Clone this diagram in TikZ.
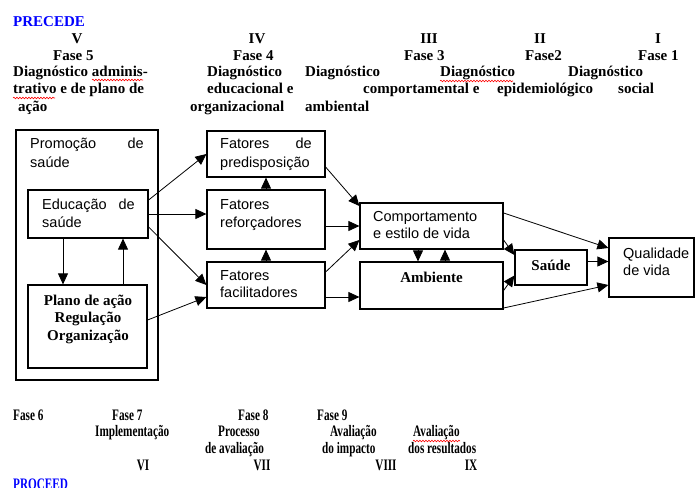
\documentclass[tikz,border=0pt]{standalone}
\usepackage{fontspec}
\setmainfont{Liberation Serif}
\newfontfamily\arialf{Liberation Sans}
\usetikzlibrary{arrows.meta,decorations.pathmorphing}
\newcommand\hfnt{\fontsize{15}{17}\selectfont\bfseries}
\newcommand\afnt{\arialf\fontsize{14.5}{18}\selectfont}
\newcommand\cnd[1]{{\fontsize{16}{18}\selectfont\scalebox{0.7}[1]{#1}}}
\begin{document}
\begin{tikzpicture}[x=1pt,y=-1pt,
 box/.style={draw, line width=1.2pt, inner sep=0pt, rectangle},
 arr/.style={line width=0.8pt, -{Triangle[length=11pt,width=10pt]}},
 hd/.style={font=\hfnt, inner sep=0pt, anchor=mid west, yshift=-1.5pt},
 hc/.style={font=\hfnt, inner sep=0pt, anchor=mid, yshift=-1.5pt},
 bt/.style={font=\afnt, inner sep=0pt, anchor=mid west, yshift=-1.5pt},
 btr/.style={font=\afnt, inner sep=0pt, anchor=mid east, yshift=-1.5pt},
 blu/.style={text=blue},
 sq/.style={draw=red, line width=0.6pt, decorate, decoration={snake, amplitude=0.8pt, segment length=3pt}}
]
\clip (0,0) rectangle (695,487);
\fill[white] (0,0) rectangle (695,487);

% header
\node[hd,blu] (precede) at (13,22.5) {PRECEDE};
\node[hc] (r5) at (77,40) {V};
\node[hc] (r4) at (257,40) {IV};
\node[hc] (r3) at (429,40) {III};
\node[hc] (r2) at (540,40) {II};
\node[hc] (r1) at (658,40) {I};
\node[hd] (f5) at (53,57) {Fase 5};
\node[hd] (f4) at (233,57) {Fase 4};
\node[hd] (f3) at (404,57) {Fase 3};
\node[hd] (f2) at (525,57) {Fase2};
\node[hd] (f1) at (638,57) {Fase 1};
\node[hd] (d5a) at (13,73) {Diagnóstico adminis-};
\node[hd] (d5b) at (13,90) {trativo e de plano de};
\node[hd] (d5c) at (18,108) {ação};
\node[hd] (d4a) at (207,73) {Diagnóstico};
\node[hd] (d4b) at (207,90) {educacional e};
\node[hd] (d4c) at (190,108) {organizacional};
\node[hd] (d3a) at (305,73) {Diagnóstico};
\node[hd] (d3c) at (305,108) {ambiental};
\node[hd] (d3b) at (363,90) {comportamental e};
\node[hd] (d2a) at (440,73) {Diagnóstico};
\node[hd] (d2b) at (497,90) {epidemiológico};
\node[hd] (d1a) at (568,73) {Diagnóstico};
\node[hd] (d1b) at (618,90) {social};
\draw[sq] (92,80) -- (143,80);
\draw[sq] (13,98) -- (55,98);
\draw[sq] (440,81) -- (513,81);

% boxes
\node[box, minimum width=142pt, minimum height=250pt] (outer) at (87,255) {};
\node[box, minimum width=120pt, minimum height=48pt] (edu) at (88,214) {};
\node[box, minimum width=119pt, minimum height=83pt] (plano) at (87.5,326.5) {};
\node[box, minimum width=118pt, minimum height=46pt] (pred) at (266,154) {};
\node[box, minimum width=118pt, minimum height=59pt] (ref) at (266,219.5) {};
\node[box, minimum width=118pt, minimum height=46pt] (fac) at (266,285) {};
\node[box, minimum width=143pt, minimum height=46pt] (comp) at (431.5,226) {};
\node[box, minimum width=143pt, minimum height=47pt] (amb) at (431.5,285.5) {};
\node[box, minimum width=72pt, minimum height=35pt] (saude) at (551,267.5) {};
\node[box, minimum width=85pt, minimum height=59pt] (qual) at (651.5,267.5) {};

% box texts
\node[bt] (t1) at (30,145) {Promoção};
\node[btr] (t2) at (144,145) {de};
\node[bt] (t3) at (30,164) {saúde};
\node[bt] (t4) at (42,206) {Educação};
\node[btr] (t5) at (135,206) {de};
\node[bt] (t6) at (42,224) {saúde};
\node[hc] (t7) at (88,302) {Plano de ação};
\node[hc] (t8) at (88,319) {Regulação};
\node[hc] (t9) at (88,337) {Organização};
\node[bt] (t10) at (220,145) {Fatores};
\node[btr] (t11) at (312,145) {de};
\node[bt] (t12) at (220,164) {predisposição};
\node[bt] (t13) at (220,206) {Fatores};
\node[bt] (t14) at (220,224) {reforçadores};
\node[bt] (t15) at (220,277) {Fatores};
\node[bt] (t16) at (220,294) {facilitadores};
\node[bt] (t17) at (373,218) {Comportamento};
\node[bt] (t18) at (373,235) {e estilo de vida};
\node[hc] (t19) at (431.5,279) {Ambiente};
\node[hc] (t20) at (551,267) {Saúde};
\node[bt] (t21) at (623,255) {Qualidade};
\node[bt] (t22) at (623,272) {de vida};

% arrows
\draw[arr] ([xshift=-25pt]edu.south) -- ([xshift=-25pt]edu.south |- plano.north);
\draw[arr] ([xshift=35.5pt]plano.north) -- ([xshift=35.5pt]plano.north |- edu.south);
\draw[arr] (ref.north) -- (pred.south);
\draw[arr] (fac.north) -- (ref.south);
\draw[arr] ([yshift=14pt]edu.east) -- (pred.west);
\draw[arr] (edu.east) -- (edu.east -| ref.west);
\draw[arr] ([yshift=-13pt]edu.east) -- (fac.west);
\draw[arr] ([yshift=6.5pt]plano.east) -- ([yshift=-12pt]fac.west);
\draw[arr] ([yshift=-13pt]pred.east) -- ([yshift=20pt]comp.west);
\draw[arr] ([yshift=-6.5pt]ref.east) -- ([yshift=-6.5pt]ref.east -| comp.west);
\draw[arr] ([yshift=13pt]fac.east) -- ([yshift=-14pt]comp.west);
\draw[arr] ([yshift=-12pt]fac.east) -- ([yshift=-12pt]fac.east -| amb.west);
\draw[arr] ([xshift=-13.5pt]comp.south) -- ([xshift=-13.5pt]comp.south |- amb.north);
\draw[arr] ([xshift=13.5pt]amb.north) -- ([xshift=13.5pt]amb.north |- comp.south);
\draw[arr] ([yshift=-14pt]comp.east) -- ([yshift=12.5pt]saude.west);
\draw[arr] ([yshift=-5pt]amb.east) -- ([yshift=-8pt]saude.west);
\draw[arr] ([yshift=13pt]comp.east) -- ([yshift=19.5pt]qual.west);
\draw[arr] ([yshift=6pt]saude.east) -- ([yshift=6pt]saude.east -| qual.west);
\draw[arr] ([yshift=-22.5pt]amb.east) -- ([yshift=-17.5pt]qual.west);

% bottom
\node[hd] (f6) at (13,417) {\cnd{Fase 6}};
\node[hd] (f7) at (112,417) {\cnd{Fase 7}};
\node[hd] (f8) at (238,417) {\cnd{Fase 8}};
\node[hd] (f9) at (317,417) {\cnd{Fase 9}};
\node[hd] (b1) at (95,433) {\cnd{Implementação}};
\node[hd] (b2) at (218,433) {\cnd{Processo}};
\node[hd] (b3) at (205,450) {\cnd{de avaliação}};
\node[hd] (b4) at (330,433) {\cnd{Avaliação}};
\node[hd] (b5) at (322,450) {\cnd{do impacto}};
\node[hd] (b6) at (413,433) {\cnd{Avaliação}};
\node[hd] (b7) at (408,450) {\cnd{dos resultados}};
\draw[sq] (413,441) -- (460,441);
\node[hc] (r6) at (143,467) {\cnd{VI}};
\node[hc] (r7) at (262,467) {\cnd{VII}};
\node[hc] (r8) at (386,467) {\cnd{VIII}};
\node[hc] (r9) at (471,467) {\cnd{IX}};
\node[font=\hfnt, inner sep=0pt, anchor=base west, blu] (proceed) at (13,489.5) {\cnd{PROCEED}};
\end{tikzpicture}
\end{document}
